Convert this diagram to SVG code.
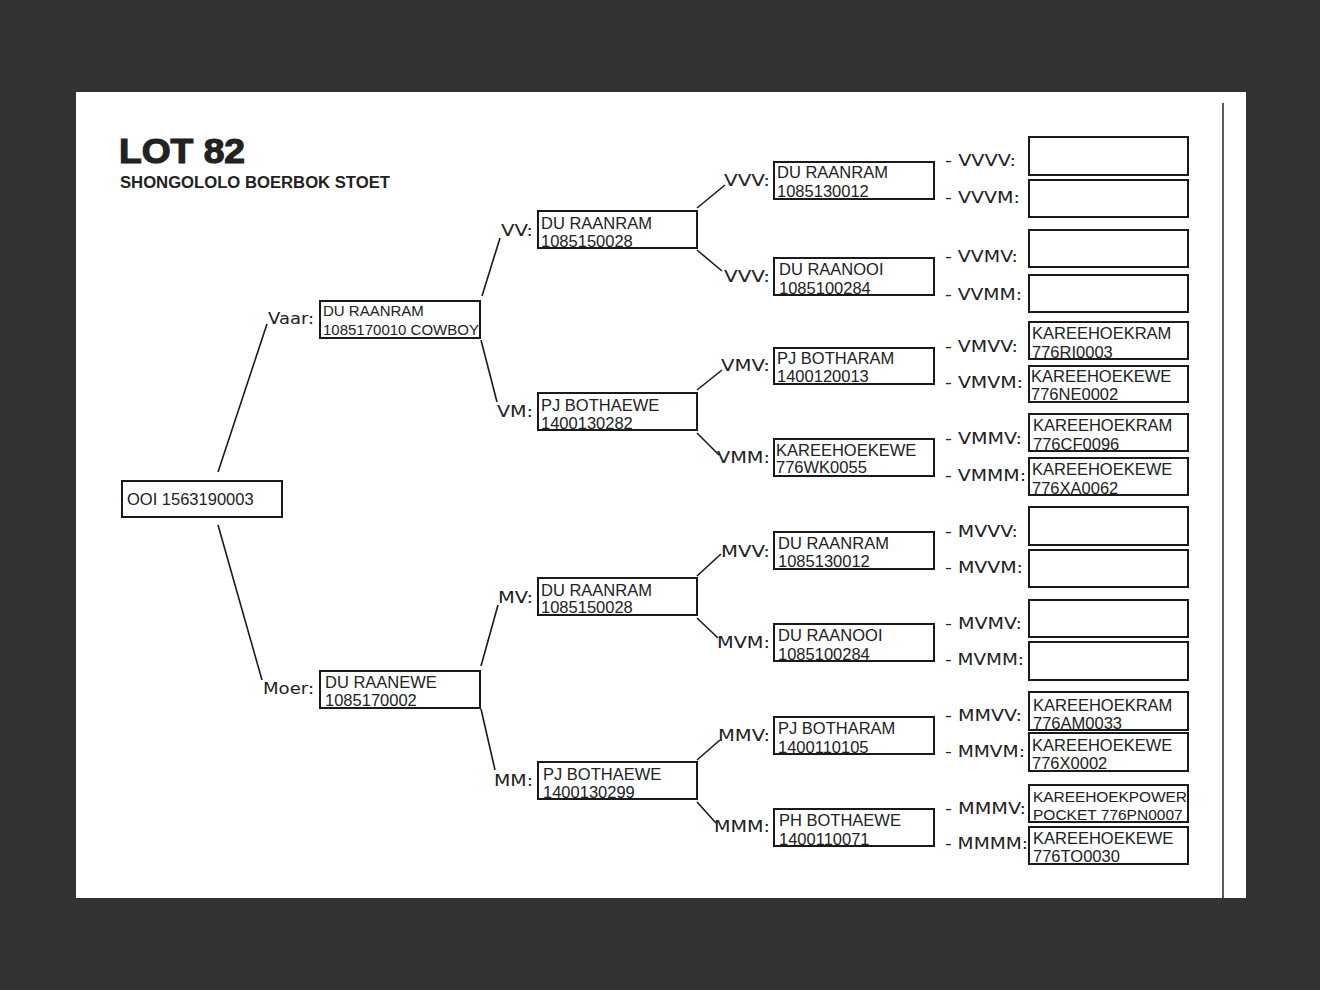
<svg xmlns="http://www.w3.org/2000/svg" width="1320" height="990" viewBox="0 0 1320 990">
<style>
.bx{fill:#fff;stroke:#1a1a1a;stroke-width:2}
.t{font-family:"Liberation Sans",Arial,sans-serif;font-size:16.5px;fill:#222}
.ts{font-size:15px}
.tp{font-size:15.5px}
.lb{font-family:"DejaVu Sans",Verdana,sans-serif;font-size:16px;fill:#222}
.cn line{stroke:#1a1a1a;stroke-width:1.6}
</style>
<rect x="0" y="0" width="1320" height="990" fill="#333333"/>
<rect x="76" y="92" width="1170" height="806" fill="#ffffff"/>
<line x1="1223" y1="103" x2="1223" y2="898" stroke="#222" stroke-width="1.5"/>
<g id="title">
<text x="119" y="163" font-family="'Liberation Sans',Arial,sans-serif" font-weight="bold" font-size="35" fill="#222" stroke="#222" stroke-width="1.2" textLength="126" lengthAdjust="spacingAndGlyphs">LOT 82</text>
<text x="120" y="188" font-family="'Liberation Sans',Arial,sans-serif" font-weight="bold" font-size="16" fill="#222" textLength="270" lengthAdjust="spacingAndGlyphs">SHONGOLOLO BOERBOK STOET</text>
</g>
<g id="connectors" class="cn">
<line x1="218" y1="472" x2="267" y2="324"/>
<line x1="218" y1="525" x2="262" y2="680"/>
<line x1="482" y1="296" x2="500" y2="238"/>
<line x1="481" y1="340" x2="497" y2="402"/>
<line x1="481" y1="666" x2="498" y2="605"/>
<line x1="481" y1="709" x2="495" y2="770"/>
<line x1="697" y1="208" x2="725" y2="185"/>
<line x1="697" y1="250" x2="722" y2="271"/>
<line x1="697" y1="390" x2="722" y2="370"/>
<line x1="697" y1="433" x2="719" y2="455"/>
<line x1="697" y1="576" x2="721" y2="554"/>
<line x1="697" y1="618" x2="718" y2="638"/>
<line x1="697" y1="760" x2="720" y2="740"/>
<line x1="697" y1="802" x2="716" y2="823"/>
</g>
<g id="root"><rect class="bx" x="122" y="481" width="160" height="36"/><text class="t" x="127" y="505">OOI 1563190003</text></g>
<g id="vaar"><text class="lb" x="268" y="324" textLength="46" lengthAdjust="spacingAndGlyphs">Vaar:</text><rect class="bx" x="320" y="301" width="160" height="37"/><text class="t ts" x="323" y="316">DU RAANRAM</text><text class="t ts" x="323" y="335">1085170010 COWBOY</text></g>
<g id="moer"><text class="lb" x="263" y="694" textLength="51" lengthAdjust="spacingAndGlyphs">Moer:</text><rect class="bx" x="320" y="671" width="160" height="37"/><text class="t" x="325" y="688">DU RAANEWE</text><text class="t" x="325" y="706">1085170002</text></g>
<g id="vv"><text class="lb" x="501" y="236" textLength="32" lengthAdjust="spacingAndGlyphs">VV:</text><rect class="bx" x="538" y="211" width="159" height="37"/><text class="t" x="541" y="229">DU RAANRAM</text><text class="t" x="541" y="247">1085150028</text></g>
<g id="vm"><text class="lb" x="497" y="417" textLength="36" lengthAdjust="spacingAndGlyphs">VM:</text><rect class="bx" x="538" y="393" width="159" height="37"/><text class="t" x="541" y="411">PJ BOTHAEWE</text><text class="t" x="541" y="429">1400130282</text></g>
<g id="mv"><text class="lb" x="498" y="603" textLength="35" lengthAdjust="spacingAndGlyphs">MV:</text><rect class="bx" x="538" y="578" width="159" height="37"/><text class="t" x="541" y="596">DU RAANRAM</text><text class="t" x="541" y="613">1085150028</text></g>
<g id="mm"><text class="lb" x="494" y="786" textLength="39" lengthAdjust="spacingAndGlyphs">MM:</text><rect class="bx" x="538" y="762" width="159" height="37"/><text class="t" x="543" y="780">PJ BOTHAEWE</text><text class="t" x="543" y="798">1400130299</text></g>
<g id="vvv"><text class="lb" x="724" y="186" textLength="46" lengthAdjust="spacingAndGlyphs">VVV:</text><rect class="bx" x="774" y="162" width="160" height="37"/><text class="t" x="777" y="178">DU RAANRAM</text><text class="t" x="777" y="197">1085130012</text></g>
<g id="vvm"><text class="lb" x="724" y="282" textLength="46" lengthAdjust="spacingAndGlyphs">VVV:</text><rect class="bx" x="774" y="258" width="160" height="37"/><text class="t" x="779" y="275">DU RAANOOI</text><text class="t" x="779" y="294">1085100284</text></g>
<g id="vmv"><text class="lb" x="721" y="371" textLength="49" lengthAdjust="spacingAndGlyphs">VMV:</text><rect class="bx" x="774" y="348" width="160" height="36"/><text class="t" x="777" y="364">PJ BOTHARAM</text><text class="t" x="777" y="382">1400120013</text></g>
<g id="vmm"><text class="lb" x="717" y="463" textLength="53" lengthAdjust="spacingAndGlyphs">VMM:</text><rect class="bx" x="774" y="439" width="160" height="37"/><text class="t" x="776" y="456">KAREEHOEKEWE</text><text class="t" x="776" y="473">776WK0055</text></g>
<g id="mvv"><text class="lb" x="721" y="557" textLength="49" lengthAdjust="spacingAndGlyphs">MVV:</text><rect class="bx" x="774" y="532" width="160" height="37"/><text class="t" x="778" y="549">DU RAANRAM</text><text class="t" x="778" y="567">1085130012</text></g>
<g id="mvm"><text class="lb" x="717" y="648" textLength="53" lengthAdjust="spacingAndGlyphs">MVM:</text><rect class="bx" x="774" y="624" width="160" height="37"/><text class="t" x="778" y="641">DU RAANOOI</text><text class="t" x="778" y="660">1085100284</text></g>
<g id="mmv"><text class="lb" x="718" y="741" textLength="52" lengthAdjust="spacingAndGlyphs">MMV:</text><rect class="bx" x="774" y="717" width="160" height="37"/><text class="t" x="778" y="734">PJ BOTHARAM</text><text class="t" x="778" y="753">1400110105</text></g>
<g id="mmm"><text class="lb" x="714" y="832" textLength="56" lengthAdjust="spacingAndGlyphs">MMM:</text><rect class="bx" x="774" y="809" width="160" height="37"/><text class="t" x="779" y="826">PH BOTHAEWE</text><text class="t" x="779" y="845">1400110071</text></g>
<g id="vvvv"><text class="lb" x="945" y="166" textLength="71" lengthAdjust="spacingAndGlyphs">- VVVV:</text><rect class="bx" x="1029" y="137" width="159" height="38"/></g>
<g id="vvvm"><text class="lb" x="945" y="203" textLength="75" lengthAdjust="spacingAndGlyphs">- VVVM:</text><rect class="bx" x="1029" y="180" width="159" height="37"/></g>
<g id="vvmv"><text class="lb" x="945" y="262" textLength="73" lengthAdjust="spacingAndGlyphs">- VVMV:</text><rect class="bx" x="1029" y="230" width="159" height="37"/></g>
<g id="vvmm"><text class="lb" x="945" y="300" textLength="77" lengthAdjust="spacingAndGlyphs">- VVMM:</text><rect class="bx" x="1029" y="275" width="159" height="37"/></g>
<g id="vmvv"><text class="lb" x="945" y="352" textLength="73" lengthAdjust="spacingAndGlyphs">- VMVV:</text><rect class="bx" x="1029" y="322" width="159" height="37"/><text class="t" x="1032" y="339">KAREEHOEKRAM</text><text class="t" x="1032" y="358">776RI0003</text></g>
<g id="vmvm"><text class="lb" x="945" y="388" textLength="78" lengthAdjust="spacingAndGlyphs">- VMVM:</text><rect class="bx" x="1029" y="366" width="159" height="36"/><text class="t" x="1031" y="382">KAREEHOEKEWE</text><text class="t" x="1031" y="400">776NE0002</text></g>
<g id="vmmv"><text class="lb" x="945" y="444" textLength="77" lengthAdjust="spacingAndGlyphs">- VMMV:</text><rect class="bx" x="1029" y="414" width="159" height="37"/><text class="t" x="1033" y="431">KAREEHOEKRAM</text><text class="t" x="1033" y="450">776CF0096</text></g>
<g id="vmmm"><text class="lb" x="945" y="481" textLength="81" lengthAdjust="spacingAndGlyphs">- VMMM:</text><rect class="bx" x="1029" y="458" width="159" height="37"/><text class="t" x="1032" y="475">KAREEHOEKEWE</text><text class="t" x="1032" y="494">776XA0062</text></g>
<g id="mvvv"><text class="lb" x="945" y="537" textLength="73" lengthAdjust="spacingAndGlyphs">- MVVV:</text><rect class="bx" x="1029" y="507" width="159" height="38"/></g>
<g id="mvvm"><text class="lb" x="945" y="573" textLength="78" lengthAdjust="spacingAndGlyphs">- MVVM:</text><rect class="bx" x="1029" y="550" width="159" height="37"/></g>
<g id="mvmv"><text class="lb" x="945" y="629" textLength="77" lengthAdjust="spacingAndGlyphs">- MVMV:</text><rect class="bx" x="1029" y="600" width="159" height="37"/></g>
<g id="mvmm"><text class="lb" x="945" y="665" textLength="79" lengthAdjust="spacingAndGlyphs">- MVMM:</text><rect class="bx" x="1029" y="642" width="159" height="38"/></g>
<g id="mmvv"><text class="lb" x="945" y="721" textLength="77" lengthAdjust="spacingAndGlyphs">- MMVV:</text><rect class="bx" x="1029" y="692" width="159" height="38"/><text class="t" x="1033" y="711">KAREEHOEKRAM</text><text class="t" x="1033" y="729">776AM0033</text></g>
<g id="mmvm"><text class="lb" x="945" y="757" textLength="80" lengthAdjust="spacingAndGlyphs">- MMVM:</text><rect class="bx" x="1029" y="733" width="159" height="38"/><text class="t" x="1032" y="751">KAREEHOEKEWE</text><text class="t" x="1032" y="769">776X0002</text></g>
<g id="mmmv"><text class="lb" x="945" y="814" textLength="81" lengthAdjust="spacingAndGlyphs">- MMMV:</text><rect class="bx" x="1029" y="785" width="159" height="37"/><text class="t tp" x="1033" y="802" textLength="154">KAREEHOEKPOWER</text><text class="t tp" x="1033" y="820">POCKET 776PN0007</text></g>
<g id="mmmm"><text class="lb" x="945" y="849" textLength="83" lengthAdjust="spacingAndGlyphs">- MMMM:</text><rect class="bx" x="1029" y="827" width="159" height="37"/><text class="t" x="1033" y="844">KAREEHOEKEWE</text><text class="t" x="1033" y="862">776TO0030</text></g>
</svg>
